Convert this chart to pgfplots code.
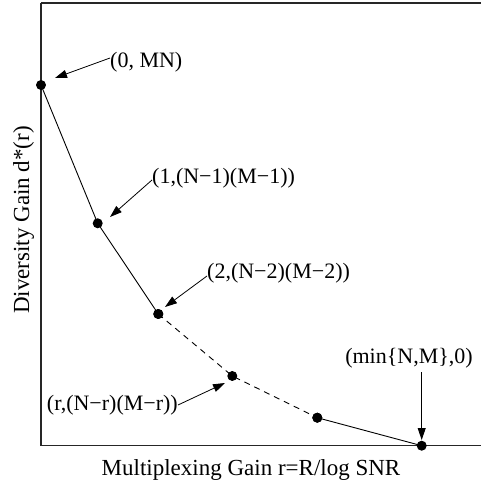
\documentclass[border=0pt]{standalone}
\usepackage{pgfplots}
\pgfplotsset{compat=1.18}
\usepackage{pgfplotstable}
\usepackage{fontspec}
\setmainfont{Liberation Serif}
\usetikzlibrary{arrows.meta}

% Diversity-multiplexing tradeoff corner points (plot units)
\pgfplotstableread{
r d
0     360.7
56.7  222.4
117.3 131.7
}\firstpart
\pgfplotstableread{
r d
117.3 131.7
191.3 69.7
276.3 28.0
}\middlepart
\pgfplotstableread{
r d
276.3 28.0
380.7 0
}\lastpart

\begin{document}
\begin{tikzpicture}
\begin{axis}[
  scale only axis, width=440pt, height=442.7pt,
  xmin=0, xmax=440, ymin=0, ymax=442.7,
  axis x line*=box, axis y line*=left,
  xtick=\empty, ytick=\empty,
  axis line style={line width=1.1pt, black!85},
  clip=false,
  xlabel={Multiplexing Gain r=R/log SNR},
  ylabel={Diversity Gain d*(r)},
  label style={font=\fontsize{23}{27}\selectfont},
  xlabel style={at={(axis cs:210,-29.3)}, anchor=base},
  ylabel style={at={(axis cs:-12,225.7)}, anchor=base, rotate=0},
  tradeoff/.style={black, line width=0.9pt, mark=*, mark size=4.5pt,
    mark options={solid, fill=black}},
]
\addplot[tradeoff] table[x=r, y=d] {\firstpart};
\addplot[tradeoff, dash pattern=on 6pt off 5pt] table[x=r, y=d] {\middlepart};
\addplot[tradeoff] table[x=r, y=d] {\lastpart};

\tikzset{lbl/.style={font=\fontsize{22}{26}\selectfont, inner sep=0pt},
         arr/.style={-{Triangle[length=12pt,width=8pt]}, line width=0.8pt}}
\node[lbl, anchor=west] at (axis cs:69,383.7) {(0, MN)};
\draw[arr] (axis cs:69,387.7) -- (axis cs:14,367.7);
\node[lbl, anchor=west] at (axis cs:111,267.7) {(1,(N−1)(M−1))};
\draw[arr] (axis cs:111,265.7) -- (axis cs:69,228.7);
\node[lbl, anchor=west] at (axis cs:166,172.7) {(2,(N−2)(M−2))};
\draw[arr] (axis cs:166,169.7) -- (axis cs:124,138.7);
\node[lbl, anchor=east] at (axis cs:137,40.7) {(r,(N−r)(M−r))};
\draw[arr] (axis cs:137,40.7) -- (axis cs:184,62.7);
\node[lbl] at (axis cs:368,87.7) {(min\{N,M\},0)};
\draw[arr] (axis cs:380.7,73.7) -- (axis cs:380.7,5.7);
\end{axis}
\pgfresetboundingbox
\path (-41pt,-42.3pt) rectangle (440pt,445.7pt);
\end{tikzpicture}
\end{document}
